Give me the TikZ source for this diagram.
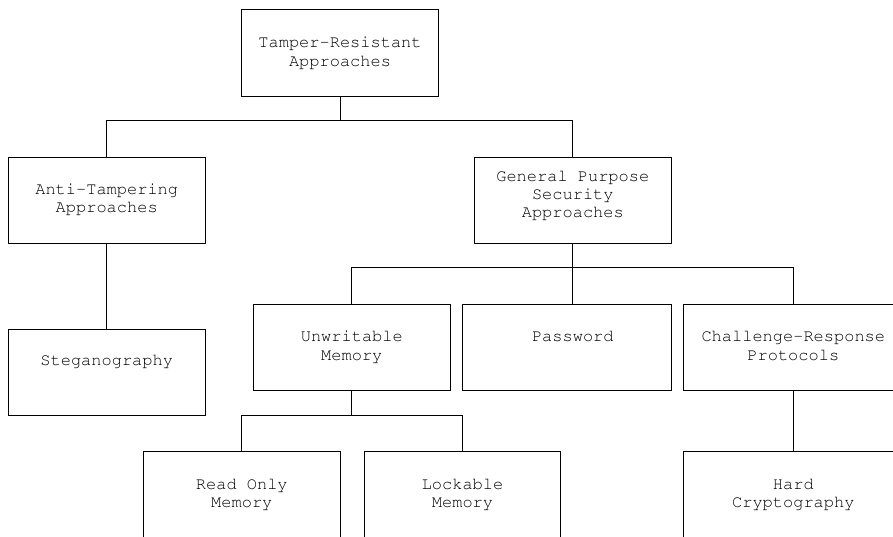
\documentclass[tikz,border=0pt]{standalone}
\usepackage[T1]{fontenc}
\begin{document}
\begin{tikzpicture}[x=1pt,y=-1pt,
  box/.style={draw=black, line width=1pt, rectangle, inner sep=0pt, minimum width=196.6pt, minimum height=86pt},
  lbl/.style={anchor=base, align=center, inner sep=0pt, font={\fontfamily{pcr}\fontsize{17}{18.3}\selectfont}},
  conn/.style={draw=black, line width=1pt}]
\useasboundingbox (0,0) rectangle (893,536);
\fill[white] (0,0) rectangle (893,536);
\clip (0,0) rectangle (893,536);
% boxes
\node[box, minimum height=86.7pt] (tra) at (340,53.3) {};
\node[box] (ata) at (106.7,200.3) {};
\node[box] (gps) at (572.8,200.3) {};
\node[box] (steg) at (106.7,372) {};
\node[box, minimum height=85.7pt] (unw) at (351.8,347.2) {};
\node[box, minimum width=208.7pt, minimum height=85.7pt] (pwd) at (566.7,347.2) {};
\node[box, minimum width=220pt, minimum height=85.7pt] (chr) at (793.3,347.2) {};
\node[box] (rom) at (241.8,494.7) {};
\node[box, minimum width=196.4pt] (lock) at (462.5,494.7) {};
\node[box, minimum width=220pt] (hard) at (793.3,494.7) {};
% labels (base = last line's baseline)
\node[lbl] (tral) at ([yshift=-56.6pt]tra.north) {Tamper-Resistant\\Approaches};
\node[lbl] (atal) at ([yshift=-56pt]ata.north) {Anti-Tampering\\Approaches};
\node[lbl] (gpsl) at ([yshift=-61pt]gps.north) {General Purpose\\Security\\Approaches};
\node[lbl] (stegl) at ([yshift=-37.2pt]steg.north) {Steganography};
\node[lbl] (unwl) at ([yshift=-56.3pt]unw.north) {Unwritable\\Memory};
\node[lbl] (pwdl) at ([yshift=-38pt]pwd.north -| gps.north) {Password};
\node[lbl] (chrl) at ([yshift=-56.3pt]chr.north) {Challenge-Response\\Protocols};
\node[lbl] (roml) at ([yshift=-56.6pt]rom.north) {Read Only\\Memory};
\node[lbl] (lockl) at ([yshift=-56.6pt]lock.north) {Lockable\\Memory};
\node[lbl] (hardl) at ([yshift=-56.3pt]hard.north) {Hard\\Cryptography};
% bus coordinates
\coordinate (b1) at (340,120.7);
\coordinate (b2) at (572.8,267.3);
\coordinate (b3) at (351.8,415);
% connectors
\draw[conn] (tra.south) -- (b1);
\draw[conn] (b1) -| (ata.north);
\draw[conn] (b1) -| (gps.north);
\draw[conn] (ata.south) -- (steg.north);
\draw[conn] (gps.south) -- (b2);
\draw[conn] (b2) -| (unw.north);
\draw[conn] (b2) -- (pwd.north -| gps.south);
\draw[conn] (b2) -| (chr.north);
\draw[conn] (unw.south) -- (b3);
\draw[conn] (b3) -| (rom.north);
\draw[conn] (b3) -| (lock.north);
\draw[conn] (chr.south) -- (hard.north);
\end{tikzpicture}
\end{document}
